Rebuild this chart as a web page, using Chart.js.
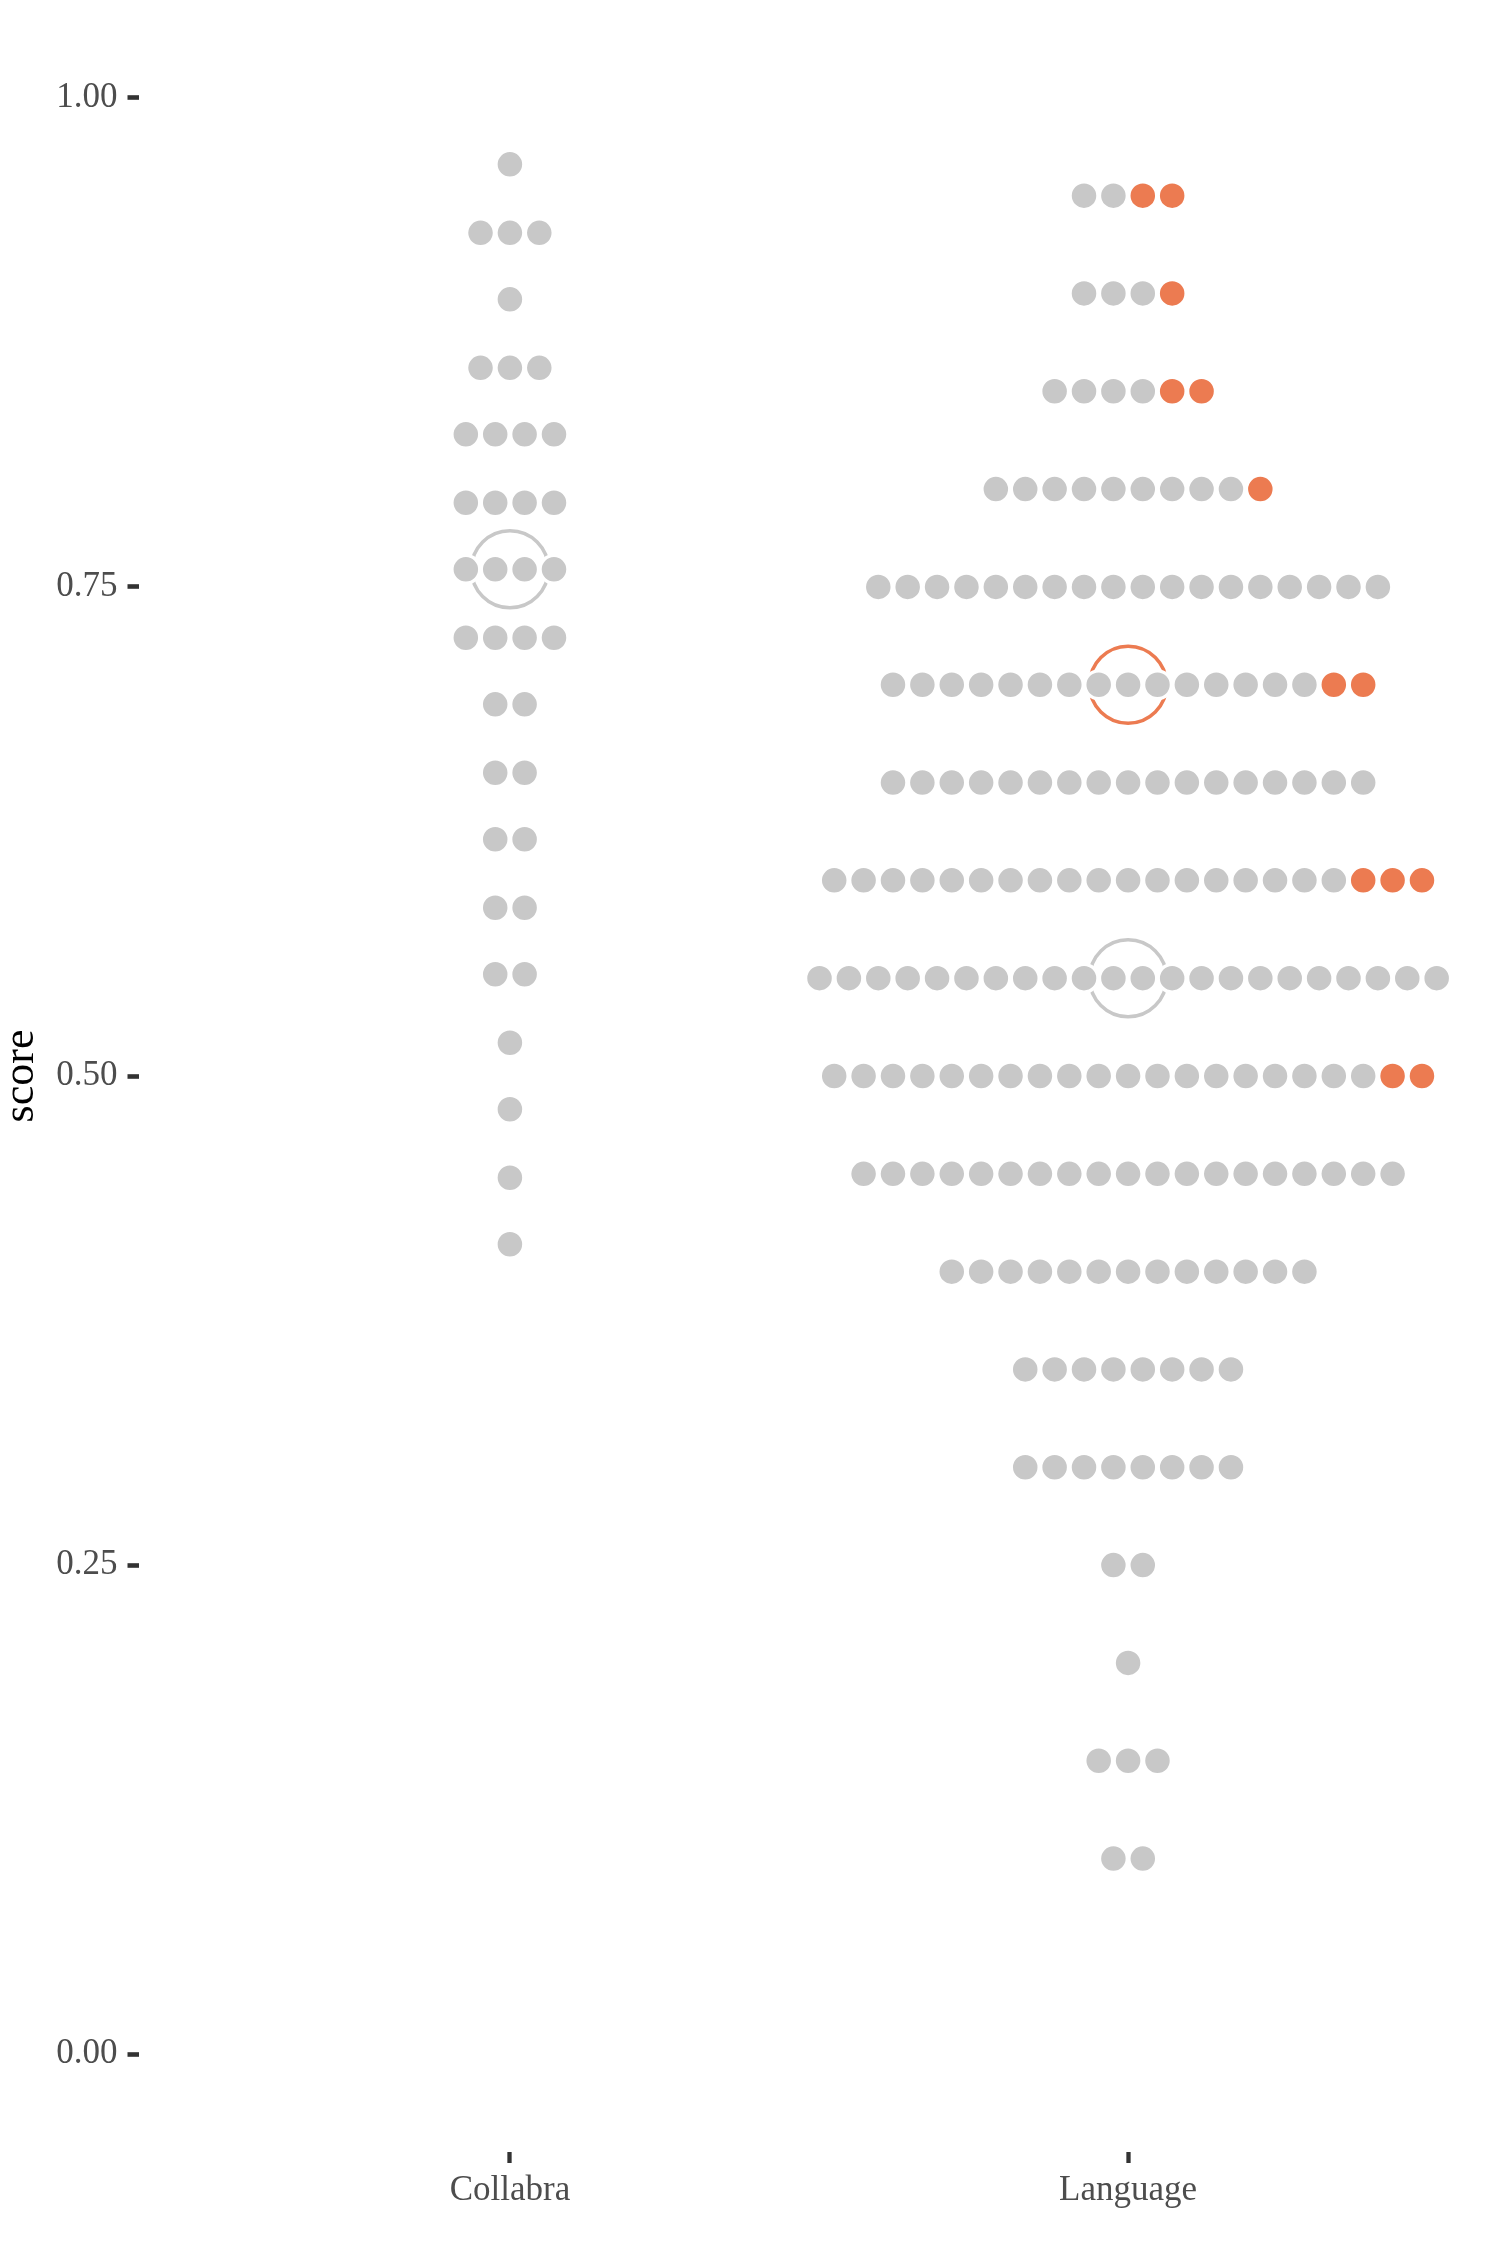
<!DOCTYPE html>
<html>
<head>
<meta charset="utf-8">
<script src="https://cdn.jsdelivr.net/npm/chart.js@4.4.1/dist/chart.umd.min.js"></script>
<style>
html,body{margin:0;padding:0;background:#ffffff;}
#wrap{width:1500px;height:2250px;position:relative;}
</style>
</head>
<body>
<div id="wrap"><canvas id="c" width="1500" height="2250"></canvas></div>
<script>
// ---- data ----
const categories = ['Collabra', 'Language'];
const yTickValues = [0, 0.25, 0.5, 0.75, 1];

const collabraScores = [0.966, 0.931, 0.897, 0.862, 0.828, 0.793, 0.759, 0.724, 0.690, 0.655, 0.621, 0.586, 0.552, 0.517, 0.483, 0.448, 0.414];
const collabraGrey   = [1, 3, 1, 3, 4, 4, 4, 4, 2, 2, 2, 2, 2, 1, 1, 1, 1];
const collabraOrange = [0, 0, 0, 0, 0, 0, 0, 0, 0, 0, 0, 0, 0, 0, 0, 0, 0];

const languageScores = [0.95, 0.90, 0.85, 0.80, 0.75, 0.70, 0.65, 0.60, 0.55, 0.50, 0.45, 0.40, 0.35, 0.30, 0.25, 0.20, 0.15, 0.10];
const languageGrey   = [2, 3, 4, 9, 18, 15, 17, 18, 22, 19, 19, 13, 8, 8, 2, 1, 3, 2];
const languageOrange = [2, 1, 2, 1, 0, 2, 0, 3, 0, 2, 0, 0, 0, 0, 0, 0, 0, 0];

const summaryCategory = ['Collabra', 'Language', 'Language'];
const summaryScore    = [0.759, 0.70, 0.55];
const summaryGroup    = ['grey', 'orange', 'grey'];

// ---- styling ----
const GREY = '#C8C8C8';
const ORANGE = '#EC7B51';
const DOT_STEP = 0.04754;   // horizontal stacking step (x units)
const FONT = 'Liberation Serif';

// keep Chart.js from reserving extra outer padding for large point markers
const scatterCtrl = Chart.registry.getController('scatter');
scatterCtrl.prototype.getMaxOverflow = function () { return 0; };

function buildDots(catName, scores, grey, orange) {
  const cx = categories.indexOf(catName) + 1;
  const g = [], o = [];
  scores.forEach((s, i) => {
    const n = grey[i] + orange[i];
    for (let j = 0; j < n; j++) {
      const pt = { x: cx + (j - (n - 1) / 2) * DOT_STEP, y: s };
      if (j < grey[i]) g.push(pt); else o.push(pt);
    }
  });
  return { g, o };
}

const c1 = buildDots('Collabra', collabraScores, collabraGrey, collabraOrange);
const c2 = buildDots('Language', languageScores, languageGrey, languageOrange);

const greyDots = c1.g.concat(c2.g);
const orangeDots = c1.o.concat(c2.o);
const summaryPts = summaryScore.map((s, i) => ({ x: categories.indexOf(summaryCategory[i]) + 1, y: s }));
const summaryColors = summaryGroup.map(g => g === 'orange' ? ORANGE : GREY);

new Chart(document.getElementById('c'), {
  type: 'scatter',
  data: {
    datasets: [
      {
        label: 'grey', data: greyDots, order: 1, clip: false,
        pointRadius: 13.9, pointBorderWidth: 3.3,
        pointBackgroundColor: GREY, pointBorderColor: '#ffffff',
        pointHoverRadius: 13.9
      },
      {
        label: 'orange', data: orangeDots, order: 1, clip: false,
        pointRadius: 13.9, pointBorderWidth: 3.3,
        pointBackgroundColor: ORANGE, pointBorderColor: '#ffffff',
        pointHoverRadius: 13.9
      },
      {
        label: 'summary', data: summaryPts, order: 2, clip: false,
        pointRadius: 38.5, pointBorderWidth: 3.5,
        pointBackgroundColor: 'rgba(0,0,0,0)', pointBorderColor: summaryColors,
        pointHoverRadius: 38.5
      }
    ]
  },
  options: {
    responsive: false,
    animation: false,
    devicePixelRatio: 1,
    events: [],
    layout: { padding: { left: 0, right: 1, top: 0, bottom: 0 } },
    plugins: { legend: { display: false }, tooltip: { enabled: false } },
    scales: {
      x: {
        type: 'linear', min: 0.4, max: 2.6,
        afterBuildTicks: s => { s.ticks = categories.map((c, i) => ({ value: i + 1 })); },
        ticks: {
          callback: v => categories[Math.round(v) - 1] || '',
          font: { family: FONT, size: 35 }, color: '#4D4D4D', padding: 7,
          maxRotation: 0, minRotation: 0, autoSkip: false
        },
        grid: { drawOnChartArea: false, drawTicks: true, tickLength: 11, tickWidth: 4.3, tickColor: '#333333' },
        border: { display: false },
        afterFit: s => { s.height = 98; s.paddingLeft = 0; s.paddingRight = 0; }
      },
      y: {
        type: 'linear', min: -0.05, max: 1.05,
        afterBuildTicks: s => { s.ticks = yTickValues.map(v => ({ value: v })); },
        ticks: {
          callback: v => Number(v).toFixed(2),
          font: { family: FONT, size: 35 }, color: '#4D4D4D', padding: 10, autoSkip: false
        },
        grid: { drawOnChartArea: false, drawTicks: true, tickLength: 11.5, tickWidth: 4.6, tickColor: '#333333' },
        border: { display: false },
        title: { display: true, text: 'score', color: '#000000', padding: { top: 4, bottom: 0 }, font: { family: FONT, size: 44, lineHeight: 0.8 } },
        afterFit: s => { s.width = 139; s.paddingTop = 0; s.paddingBottom = 0; }
      }
    }
  }
});
</script>
</body>
</html>
